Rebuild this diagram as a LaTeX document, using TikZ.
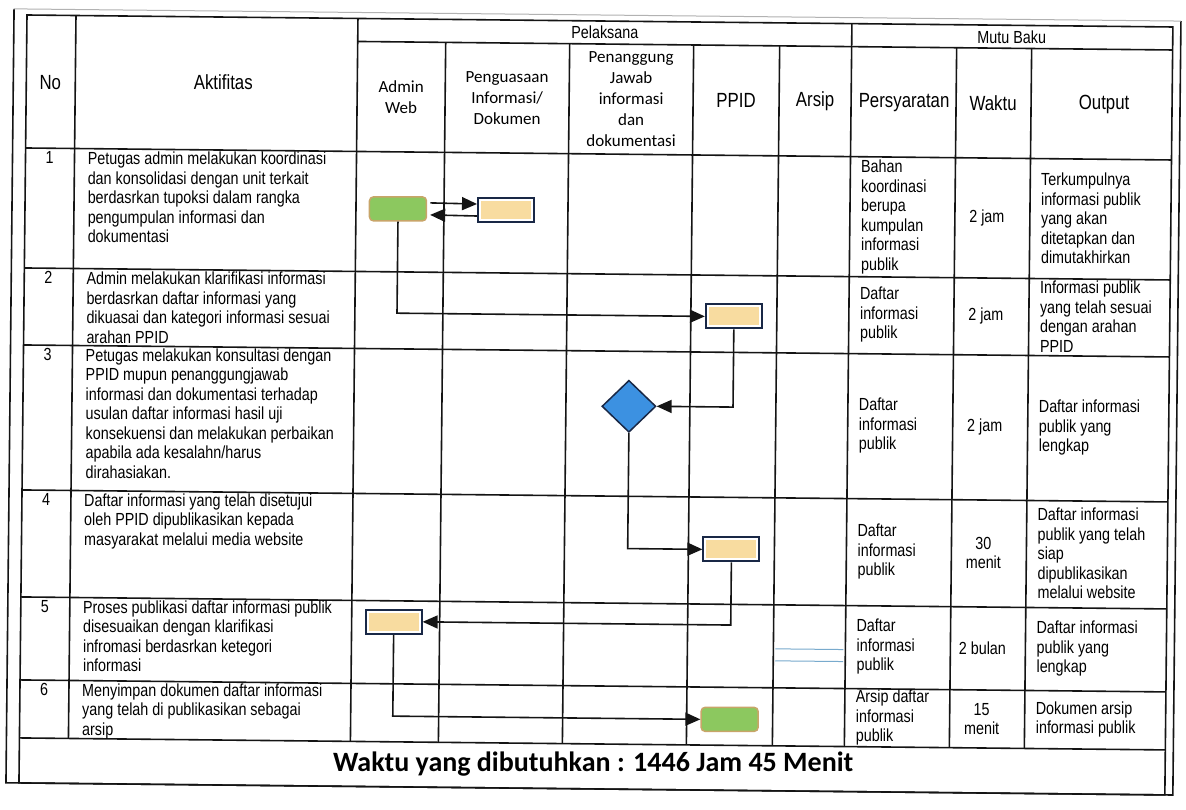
\documentclass[tikz,border=0pt]{standalone}
\usepackage{fontspec}
\setmainfont{Liberation Sans}[FakeStretch=0.82]
\newfontfamily\calib{Carlito}
\usetikzlibrary{arrows.meta,shapes.geometric,calc}
\definecolor{gfill}{RGB}{140,200,95}
\definecolor{gdraw}{RGB}{200,165,105}
\definecolor{yfill}{RGB}{248,220,160}
\definecolor{navy}{RGB}{25,40,70}
\definecolor{dfill}{RGB}{60,145,225}
\definecolor{lblue}{RGB}{120,170,205}
\definecolor{ink}{RGB}{20,20,20}
\begin{document}
\begin{tikzpicture}[x=1pt,y=-1pt,
 grid/.style={line width=1.6pt, draw=ink},
 bodytxt/.style={inner sep=0pt, font=\fontsize{17.5}{19.5}\selectfont, align=left},
 ctxt/.style={bodytxt, align=center},
 htxt/.style={inner sep=0pt, font=\fontsize{20.5}{23}\selectfont, align=center},
 hcal/.style={inner sep=0pt, font=\calib\fontsize{17}{21}\selectfont, align=center},
 greenbox/.style={draw=gdraw, line width=1.5pt, fill=gfill, rounded corners=4pt, minimum width=57pt, minimum height=24pt, inner sep=0pt},
 yelbox/.style={draw=navy, line width=2pt, fill=white, minimum width=56pt, minimum height=24pt, inner sep=0pt,
   path picture={\fill[yfill] ($(path picture bounding box.south west)+(3pt,3pt)$) rectangle ($(path picture bounding box.north east)+(-3pt,-3pt)$);}},
 decis/.style={diamond, draw=navy, line width=1.5pt, fill=dfill, minimum width=54pt, minimum height=52pt, inner sep=0pt},
 flow/.style={line width=1.6pt, draw=ink, -{Triangle[length=15pt,width=13pt]}},
]
\useasboundingbox (0,0) rectangle (1186,810);
\fill[white] (0,0) rectangle (1186,810);
\begin{scope}[rotate around={-0.6:(27,15)}]
% outer frame
\draw[grid] (14,9) -- (14,783) -- (1181,783) -- (1181,9);
\draw[gray!60, line width=1pt] (14,9) -- (1181,9);
% table grid
\draw[grid] (27,15) rectangle (1173,783);
\draw[grid] (358,38) -- (1173,38);
\foreach \y in {148,268,345,490,597,680,738} \draw[grid] (27,\y) -- (1173,\y);
\foreach \x in {76,358,852} \draw[grid] (\x,15) -- (\x,738);
\foreach \x in {446,570,694,780,957,1032} \draw[grid] (\x,38) -- (\x,738);
% headers
\node[htxt] (hNo) at (51,82) {No};
\node[htxt] (hAkt) at (224,80) {Aktifitas};
\node[ctxt] (hPel) at (605,26) {Pelaksana};
\node[ctxt] (hMutu) at (1012,27) {Mutu Baku};
\node[hcal] (hAdm) at (402,93) {Admin\\Web};
\node[hcal] (hPeng) at (508,93) {Penguasaan\\Informasi/\\Dokumen};
\node[hcal] (hPJ) at (632,93) {Penanggung\\Jawab\\informasi\\dan\\dokumentasi};
\node[htxt] (hPPID) at (737,93) {PPID};
\node[htxt] (hArs) at (816,93) {Arsip};
\node[htxt] (hSyar) at (905,93) {Persyaratan};
\node[htxt] (hWkt) at (994,93) {Waktu};
\node[htxt] (hOut) at (1105,93) {Output};
% numbers
\node[ctxt, anchor=north] (n1) at (51,151) {1};
\node[ctxt, anchor=north] (n2) at (51,271) {2};
\node[ctxt, anchor=north] (n3) at (51,348) {3};
\node[ctxt, anchor=north] (n4) at (51,493) {4};
\node[ctxt, anchor=north] (n5) at (51,600) {5};
\node[ctxt, anchor=north] (n6) at (51,683) {6};
% activities
\node[bodytxt, anchor=north west] (a1) at (89,151) {Petugas admin melakukan koordinasi\\dan konsolidasi dengan unit terkait\\berdasrkan tupoksi dalam rangka\\pengumpulan informasi dan\\dokumentasi};
\node[bodytxt, anchor=north west] (a2) at (89,271) {Admin melakukan klarifikasi informasi\\berdasrkan daftar informasi yang\\dikuasai dan kategori informasi sesuai\\arahan PPID};
\node[bodytxt, anchor=north west] (a3) at (89,348) {Petugas melakukan konsultasi dengan\\PPID mupun penanggungjawab\\informasi dan dokumentasi terhadap\\usulan daftar informasi hasil uji\\konsekuensi dan melakukan perbaikan\\apabila ada kesalahn/harus\\dirahasiakan.};
\node[bodytxt, anchor=north west] (a4) at (89,493) {Daftar informasi yang telah disetujui\\oleh PPID dipublikasikan kepada\\masyarakat melalui media website};
\node[bodytxt, anchor=north west] (a5t) at (89,600) {Proses publikasi daftar informasi publik\\disesuaikan dengan klarifikasi\\infromasi berdasrkan ketegori\\informasi};
\node[bodytxt, anchor=north west] (a6) at (89,683) {Menyimpan dokumen daftar informasi\\yang telah di publikasikan sebagai\\arsip};
% persyaratan
\node[bodytxt, anchor=west] (s1) at (863,208) {Bahan\\koordinasi\\berupa\\kumpulan\\informasi\\publik};
\node[bodytxt, anchor=west] (s2) at (863,306) {Daftar\\informasi\\publik};
\node[bodytxt, anchor=west] (s3) at (863,417) {Daftar\\informasi\\publik};
\node[bodytxt, anchor=west] (s4) at (863,543) {Daftar\\informasi\\publik};
\node[bodytxt, anchor=west] (s5) at (863,638) {Daftar\\informasi\\publik};
\node[bodytxt, anchor=west] (s6) at (863,709) {Arsip daftar\\informasi\\publik};
% waktu
\node[ctxt] (w1) at (989,208) {2 jam};
\node[ctxt] (w2) at (989,306) {2 jam};
\node[ctxt] (w3) at (989,417) {2 jam};
\node[ctxt] (w4) at (989,543) {30\\menit};
\node[ctxt] (w5) at (989,638) {2 bulan};
\node[ctxt] (w6) at (989,709) {15\\menit};
% output
\node[bodytxt, anchor=west] (o1) at (1043,208) {Terkumpulnya\\informasi publik\\yang akan\\ditetapkan dan\\dimutakhirkan};
\node[bodytxt, anchor=west] (o2) at (1043,306) {Informasi publik\\yang telah sesuai\\dengan arahan\\PPID};
\node[bodytxt, anchor=west] (o3) at (1043,417) {Daftar informasi\\publik yang\\lengkap};
\node[bodytxt, anchor=west] (o4) at (1043,543) {Daftar informasi\\publik yang telah\\siap\\dipublikasikan\\melalui website};
\node[bodytxt, anchor=west] (o5) at (1043,638) {Daftar informasi\\publik yang\\lengkap};
\node[bodytxt, anchor=west] (o6) at (1043,709) {Dokumen arsip\\informasi publik};
% footer
\node[inner sep=0pt, font=\calib\bfseries\fontsize{28}{30}\selectfont] (foot) at (601,758) {Waktu yang dibutuhkan : 1446 Jam 45 Menit};
% flow shapes
\node[greenbox] (g1) at (400,205) {};
\node[yelbox] (y1) at (508,205) {};
\node[yelbox] (p2) at (737,309) {};
\node[decis] (d3) at (633,400) {};
\node[yelbox] (p4) at (737,542) {};
\node[yelbox] (a5) at (400,618) {};
\node[greenbox] (g6) at (737,712) {};
% connectors
\draw[flow] ([yshift=6pt,xshift=3pt]g1.east) -- ([yshift=6pt]y1.west);
\draw[flow] ([yshift=-6pt]y1.west) -- ([yshift=-6pt,xshift=3pt]g1.east);
\draw[flow] (g1.south) |- (p2.west);
\draw[flow] (p2.south) |- (d3.east);
\draw[flow] (d3.south) |- (p4.west);
\draw[flow] (p4.south) |- (a5.east);
\draw[flow] (a5.south) |- (g6.west);
% arsip lines
\draw[lblue, line width=1pt] (782,641) -- (850,641);
\draw[lblue, line width=1pt] (782,653) -- (850,653);
\end{scope}
\end{tikzpicture}
\end{document}
